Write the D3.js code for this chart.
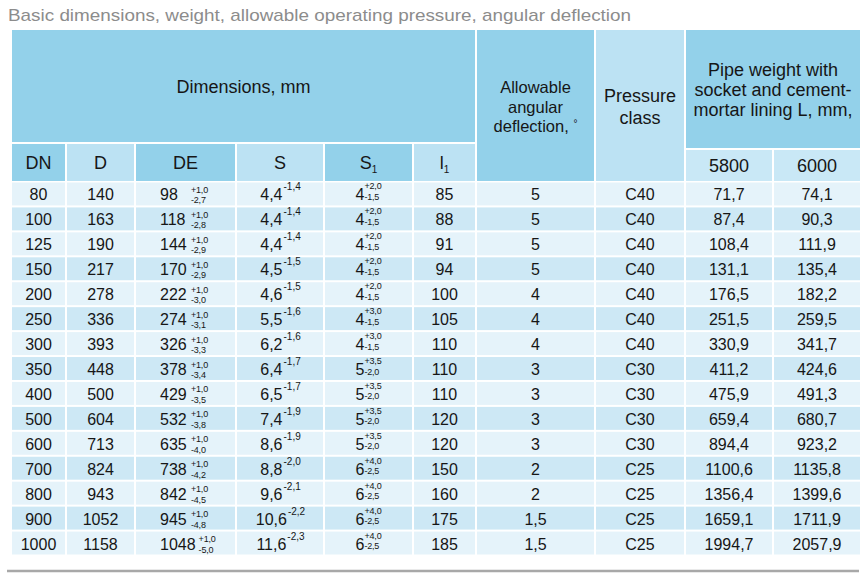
<!DOCTYPE html>
<html>
<head>
<meta charset="utf-8">
<script src="https://cdn.jsdelivr.net/npm/d3@7"></script>
<style>
  body { margin: 0; background: #fff; }
  svg { display: block; font-family: "Liberation Sans", Arial, sans-serif; }
</style>
</head>
<body>
<div id="chart"></div>
<script>
  // table values
  var dn = [80, 100, 125, 150, 200, 250, 300, 350, 400, 500, 600, 700, 800, 900, 1000];
  var dOuter = [140, 163, 190, 217, 278, 336, 393, 448, 500, 604, 713, 824, 943, 1052, 1158];
  var de = [98, 118, 144, 170, 222, 274, 326, 378, 429, 532, 635, 738, 842, 945, 1048];
  var dePlus = [1.0, 1.0, 1.0, 1.0, 1.0, 1.0, 1.0, 1.0, 1.0, 1.0, 1.0, 1.0, 1.0, 1.0, 1.0];
  var deMinus = [2.7, 2.8, 2.9, 2.9, 3.0, 3.1, 3.3, 3.4, 3.5, 3.8, 4.0, 4.2, 4.5, 4.8, 5.0];
  var s = [4.4, 4.4, 4.4, 4.5, 4.6, 5.5, 6.2, 6.4, 6.5, 7.4, 8.6, 8.8, 9.6, 10.6, 11.6];
  var sMinus = [1.4, 1.4, 1.4, 1.5, 1.5, 1.6, 1.6, 1.7, 1.7, 1.9, 1.9, 2.0, 2.1, 2.2, 2.3];
  var s1 = [4, 4, 4, 4, 4, 4, 4, 5, 5, 5, 5, 6, 6, 6, 6];
  var s1Plus = [2.0, 2.0, 2.0, 2.0, 2.0, 3.0, 3.0, 3.5, 3.5, 3.5, 3.5, 4.0, 4.0, 4.0, 4.0];
  var s1Minus = [1.5, 1.5, 1.5, 1.5, 1.5, 1.5, 1.5, 2.0, 2.0, 2.0, 2.0, 2.5, 2.5, 2.5, 2.5];
  var l1 = [85, 88, 91, 94, 100, 105, 110, 110, 110, 120, 120, 150, 160, 175, 185];
  var deflection = [5, 5, 5, 5, 4, 4, 4, 3, 3, 3, 3, 2, 2, 1.5, 1.5];
  var pressureClass = ['C40', 'C40', 'C40', 'C40', 'C40', 'C40', 'C40', 'C30', 'C30', 'C30', 'C30', 'C25', 'C25', 'C25', 'C25'];
  var weight5800 = [71.7, 87.4, 108.4, 131.1, 176.5, 251.5, 330.9, 411.2, 475.9, 659.4, 894.4, 1100.6, 1356.4, 1659.1, 1994.7];
  var weight6000 = [74.1, 90.3, 111.9, 135.4, 182.2, 259.5, 341.7, 424.6, 491.3, 680.7, 923.2, 1135.8, 1399.6, 1711.9, 2057.9];
  var lengths = [5800, 6000];

  var title = 'Basic dimensions, weight, allowable operating pressure, angular deflection';

  var W = 867, H = 578;
  var dark = '#93d1ea', light = '#bce2f3', pale = '#c9e8f6';
  var rowA = '#e5f3fa', rowB = '#cde8f5';
  var ink = '#161616';

  // comma as decimal mark
  var loc = d3.formatLocale({ decimal: ',', thousands: '', grouping: [3], currency: ['', ''] });
  var f1 = loc.format('.1f');
  var fAny = loc.format('');

  // column edges
  var colWidths = [55, 69, 101, 88, 89, 63, 119, 90, 88, 88];
  var edges = [11];
  colWidths.forEach(function (w) { edges.push(edges[edges.length - 1] + w); });
  function x0(i) { return edges[i] + 1; }
  function x1(i) { return edges[i + 1] - 1; }
  function xc(i) { return (edges[i] + edges[i + 1]) / 2; }

  var y = d3.scaleBand()
    .domain(d3.range(dn.length))
    .range([182.5, 554.5])
    .paddingInner(0.08);

  var svg = d3.select('#chart').append('svg')
    .attr('width', W)
    .attr('height', H);

  svg.append('text')
    .attr('x', 8)
    .attr('y', 21)
    .attr('font-size', 17)
    .attr('fill', '#8c8c8c')
    .attr('textLength', 623)
    .attr('lengthAdjust', 'spacingAndGlyphs')
    .text(title);

  // header cells
  var head = [
    { c0: 0, c1: 5, y0: 30, y1: 142, fill: dark, lines: ['Dimensions, mm'], size: 18, cy: 87 },
    { c0: 0, c1: 0, y0: 144, y1: 181, fill: dark, lines: ['DN'], size: 18 },
    { c0: 1, c1: 1, y0: 144, y1: 181, fill: light, lines: ['D'], size: 18 },
    { c0: 2, c1: 2, y0: 144, y1: 181, fill: dark, lines: ['DE'], size: 18 },
    { c0: 3, c1: 3, y0: 144, y1: 181, fill: light, lines: ['S'], size: 18 },
    { c0: 4, c1: 4, y0: 144, y1: 181, fill: dark, lines: ['S'], sub: '1', size: 18 },
    { c0: 5, c1: 5, y0: 144, y1: 181, fill: light, lines: ['l'], sub: '1', size: 18 },
    { c0: 6, c1: 6, y0: 30, y1: 181, fill: dark, lines: ['Allowable', 'angular', 'deflection, '], deg: true, size: 16.5, lh: 19.5, cy: 107 },
    { c0: 7, c1: 7, y0: 30, y1: 181, fill: light, lines: ['Pressure', 'class'], size: 18, lh: 22, cy: 107 },
    { c0: 8, c1: 9, y0: 30, y1: 148, fill: dark, lines: ['Pipe weight with', 'socket and cement-', 'mortar lining L, mm,'], size: 18, lh: 20, cy: 90 },
    { c0: 8, c1: 8, y0: 150, y1: 181, fill: pale, lines: [String(lengths[0])], size: 18 },
    { c0: 9, c1: 9, y0: 150, y1: 181, fill: pale, lines: [String(lengths[1])], size: 18 }
  ];

  var hg = svg.append('g').attr('class', 'head');
  head.forEach(function (h) {
    hg.append('rect')
      .attr('x', x0(h.c0))
      .attr('y', h.y0)
      .attr('width', x1(h.c1) - x0(h.c0))
      .attr('height', h.y1 - h.y0)
      .attr('fill', h.fill);

    var cx = (x0(h.c0) + x1(h.c1)) / 2;
    var cy = h.cy || (h.y0 + h.y1) / 2;
    var lh = h.lh || 20;
    var top = cy - (h.lines.length - 1) * lh / 2;
    h.lines.forEach(function (line, k) {
      var t = hg.append('text')
        .attr('x', cx)
        .attr('y', top + k * lh + h.size * 0.36)
        .attr('text-anchor', 'middle')
        .attr('font-size', h.size)
        .attr('fill', ink)
        .text(line);
      if (h.sub) {
        t.append('tspan').attr('font-size', 10).attr('dy', 4).text(h.sub);
      }
      if (h.deg && k === h.lines.length - 1) {
        t.append('tspan').attr('font-size', 10).attr('dy', -5).text('°');
      }
    });
  });

  // body rows
  var body = svg.append('g').attr('class', 'body');
  var rows = body.selectAll('g.row')
    .data(d3.range(dn.length))
    .enter().append('g')
    .attr('class', 'row');

  rows.each(function (r) {
    var g = d3.select(this);
    var fill = r % 2 === 0 ? rowA : rowB;
    var base = y(r) + y.bandwidth() / 2 + 6.5;

    colWidths.forEach(function (w, c) {
      g.append('rect')
        .attr('x', x0(c))
        .attr('y', y(r))
        .attr('width', x1(c) - x0(c))
        .attr('height', y.bandwidth())
        .attr('fill', fill);
    });

    function plain(c, txt) {
      g.append('text')
        .attr('x', xc(c))
        .attr('y', base)
        .attr('text-anchor', 'middle')
        .attr('font-size', 16)
        .attr('fill', ink)
        .text(txt);
    }

    plain(0, dn[r]);
    plain(1, dOuter[r]);
    plain(5, l1[r]);
    plain(6, fAny(deflection[r]));
    plain(7, pressureClass[r]);
    plain(8, f1(weight5800[r]));
    plain(9, f1(weight6000[r]));

    // DE value followed by a stacked tolerance
    var deX = edges[2] + 25;
    var deT = g.append('text')
      .attr('x', deX)
      .attr('y', base)
      .attr('font-size', 16)
      .attr('fill', ink)
      .text(de[r]);
    var deEnd = deX + deT.node().getComputedTextLength();
    var tolX = Math.max(deEnd + 3, edges[2] + 56);
    g.append('text')
      .attr('x', tolX).attr('y', base - 7.5)
      .attr('font-size', 9).attr('letter-spacing', -0.2).attr('fill', ink)
      .text('+' + f1(dePlus[r]));
    g.append('text')
      .attr('x', tolX).attr('y', base + 3)
      .attr('font-size', 9).attr('letter-spacing', -0.2).attr('fill', ink)
      .text('-' + f1(deMinus[r]));

    // S with superscript tolerance
    var sT = g.append('text')
      .attr('y', base).attr('font-size', 16).attr('fill', ink)
      .text(f1(s[r]));
    sT.append('tspan')
      .attr('dx', 1).attr('dy', -10).attr('font-size', 10)
      .text('-' + f1(sMinus[r]));
    var sw = sT.node().getComputedTextLength();
    sT.attr('x', xc(3) - sw / 2);

    // S1 with stacked tolerance
    var s1T = g.append('text')
      .attr('y', base).attr('font-size', 16).attr('fill', ink)
      .text(s1[r]);
    var mw = s1T.node().getComputedTextLength();
    var upT = g.append('text')
      .attr('y', base - 11).attr('font-size', 9).attr('letter-spacing', -0.2).attr('fill', ink)
      .text('+' + f1(s1Plus[r]));
    var tw = upT.node().getComputedTextLength();
    var s1x = xc(4) - (mw + tw) / 2;
    s1T.attr('x', s1x);
    upT.attr('x', s1x + mw);
    g.append('text')
      .attr('x', s1x + mw).attr('y', base - 0.5).attr('font-size', 9).attr('letter-spacing', -0.2).attr('fill', ink)
      .text('-' + f1(s1Minus[r]));
  });

  // bottom rule
  svg.append('line')
    .attr('x1', 7).attr('x2', 859)
    .attr('y1', 571).attr('y2', 571)
    .attr('stroke', '#a8a8a8')
    .attr('stroke-width', 2.5);
</script>
</body>
</html>
